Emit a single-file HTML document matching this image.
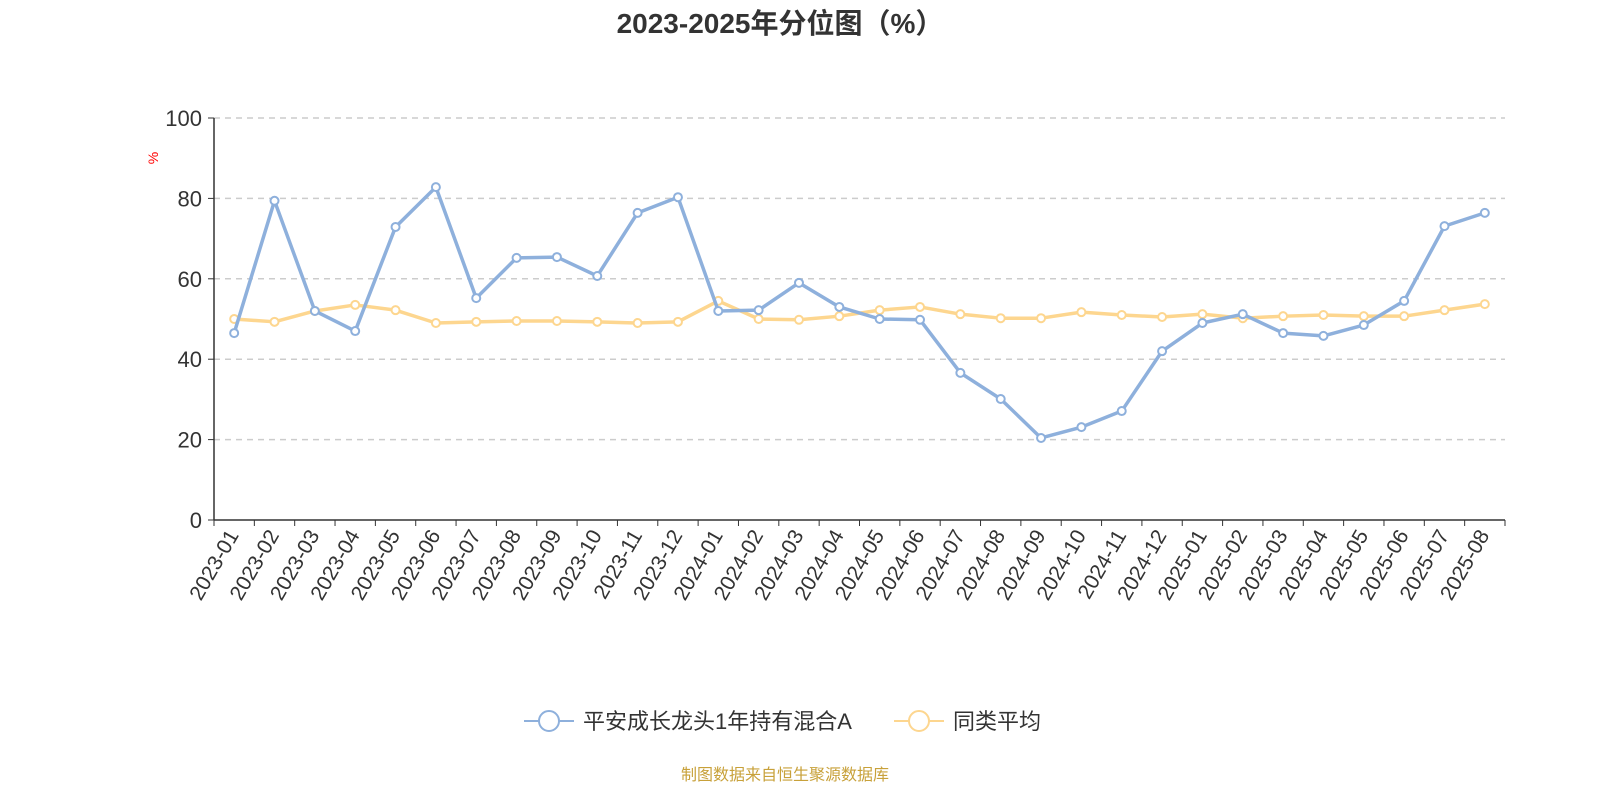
<!DOCTYPE html>
<html><head><meta charset="utf-8"><style>
body{margin:0;background:#fff;width:1600px;height:800px;overflow:hidden;font-family:"Liberation Sans","Noto Sans CJK SC",sans-serif}
</style></head><body>
<svg id="c" width="1600" height="800" xmlns="http://www.w3.org/2000/svg" style="font-family:'Liberation Sans','Noto Sans CJK SC',sans-serif">
<text x="780" y="33" text-anchor="middle" font-size="28" font-weight="bold" fill="#333">2023-2025年分位图（%）</text>
<text x="158" y="158" font-size="14" fill="red" transform="rotate(-90 158 158)" text-anchor="middle">%</text>
<g id="grid"></g><g id="axes"></g><g id="series"></g>
<g>
<g><line x1="524" y1="721" x2="574" y2="721" stroke="#8eb0dc" stroke-width="2"/><circle cx="549" cy="721" r="10" fill="#fff" stroke="#8eb0dc" stroke-width="2"/><text x="583" y="729" font-size="22" fill="#333">平安成长龙头1年持有混合A</text></g>
<g><line x1="894" y1="721" x2="944" y2="721" stroke="#fdd68f" stroke-width="2"/><circle cx="919" cy="721" r="10" fill="#fff" stroke="#fdd68f" stroke-width="2"/><text x="953" y="729" font-size="22" fill="#333">同类平均</text></g>
</g>
<text x="785" y="780" text-anchor="middle" font-size="16" fill="#c8a13a">制图数据来自恒生聚源数据库</text>
</svg>
<script>
const categories=["2023-01","2023-02","2023-03","2023-04","2023-05","2023-06","2023-07","2023-08","2023-09","2023-10","2023-11","2023-12","2024-01","2024-02","2024-03","2024-04","2024-05","2024-06","2024-07","2024-08","2024-09","2024-10","2024-11","2024-12","2025-01","2025-02","2025-03","2025-04","2025-05","2025-06","2025-07","2025-08"];
const fundValues=[46.5,79.4,52,47,72.9,82.8,55.2,65.2,65.4,60.7,76.4,80.3,52,52.2,59,53,50,49.8,36.6,30.1,20.4,23.1,27.1,42,49,51.2,46.5,45.8,48.5,54.5,73.1,76.4];
const avgValues=[50,49.3,52,53.5,52.2,49,49.3,49.5,49.5,49.3,49,49.3,54.5,50,49.8,50.7,52.2,53,51.2,50.2,50.2,51.7,51,50.5,51.2,50.2,50.7,51,50.7,50.7,52.2,53.7];
const yTicks=[0,20,40,60,80,100];
const NS="http://www.w3.org/2000/svg";
const X0=214,X1=1505,Y0=520,Y1=118;
const bw=(X1-X0)/categories.length;
const xs=i=>X0+bw*(i+0.5);
const ys=v=>Y0-(v/100)*(Y0-Y1);
function mk(t,a,p){const e=document.createElementNS(NS,t);for(const k in a)e.setAttribute(k,a[k]);p.appendChild(e);return e;}
const grid=document.getElementById('grid'),axes=document.getElementById('axes'),ser=document.getElementById('series');
yTicks.forEach(v=>{
 if(v>0){const l=mk('line',{x1:X0,x2:X1,y1:ys(v),y2:ys(v),stroke:'#ccc','stroke-dasharray':'6,5','stroke-width':1.5},grid);
 }
 const t=mk('text',{x:X0-12,y:ys(v)+8,'text-anchor':'end','font-size':22,fill:'#333'},axes);t.textContent=v;
 
 mk('line',{x1:X0-6,x2:X0,y1:ys(v),y2:ys(v),stroke:'#333'},axes);
});
let a=mk('line',{x1:X0,x2:X0,y1:Y1,y2:Y0,stroke:'#333','stroke-width':1.5},axes);

a=mk('line',{x1:X0,x2:X1,y1:Y0,y2:Y0,stroke:'#333','stroke-width':1.5},axes);

for(let i=0;i<=categories.length;i++)mk('line',{x1:X0+bw*i,x2:X0+bw*i,y1:Y0,y2:Y0+6,stroke:'#333'},axes);
categories.forEach((c,i)=>{const x=xs(i),y=Y0+12;
 const t=mk('text',{x:x,y:y+6,'text-anchor':'end','font-size':21,fill:'#333',transform:`rotate(-60 ${x} ${y})`},axes);t.textContent=c;
 });
function series(vals,color,name){
 const p=mk('polyline',{points:vals.map((v,i)=>xs(i)+','+ys(v)).join(' '),fill:'none',stroke:color,'stroke-width':3.5,'stroke-linejoin':'round'},ser);
 
 vals.forEach((v,i)=>{const c=mk('circle',{cx:xs(i),cy:ys(v),r:4,fill:'#fff',stroke:color,'stroke-width':2},ser);
 });
}
series(avgValues,'#fdd68f','average');
series(fundValues,'#8eb0dc','fund');
</script>
</body></html>
